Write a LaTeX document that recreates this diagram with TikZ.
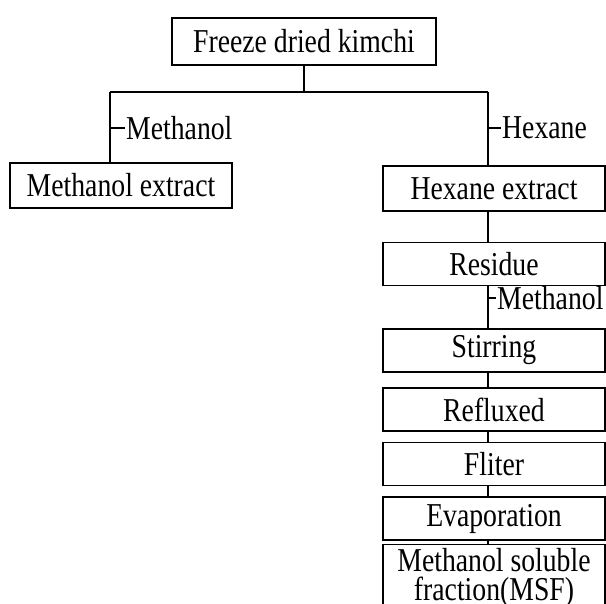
\documentclass[tikz,border=0pt]{standalone}
\usepackage{fontspec}
\setmainfont{Liberation Serif}[FakeStretch=0.83]
\usepackage{tikz}
\usetikzlibrary{positioning}

\begin{document}
\begin{tikzpicture}[
            box/.style={rectangle, draw, line width=0.8pt, minimum width=4.44cm, minimum height=0.86cm, inner sep=2pt, font=\fontsize{19}{15}\selectfont},
            link/.style={line width=0.8pt},
            solv/.style={font=\fontsize{19}{15}\selectfont, inner sep=0.5pt},
        ]
            \useasboundingbox[clip] (0,0) rectangle (12.12,12.06);

            \node[box, minimum width=5.28cm, minimum height=0.94cm] (kimchi) at (6.08, 11.23) {Freeze dried kimchi};
            \node[box, minimum height=0.9cm] (mext) at (2.42, 8.35) {Methanol extract};
            \node[box, minimum height=0.9cm] (hext) at (9.88, 8.29) {Hexane extract};
            \node[box] (res) at (9.88, 6.78) {Residue};
            \node[box] (stir) at (9.88, 5.05) {Stirring};
            \node[box] (reflux) at (9.88, 3.87) {Refluxed};
            \node[box] (filt) at (9.88, 2.78) {Fliter};
            \node[box] (evap) at (9.88, 1.69) {Evaporation};
            \node[box, minimum height=1.08cm, align=center] (msf) at (9.88, 0.5) {Methanol soluble\\[2pt]fraction(MSF)};

            % branch into the two solvents
            \coordinate (split) at (6.08, 10.22);
            \coordinate (left) at (2.2, 10.22);
            \coordinate (right) at (9.76, 10.22);
            \draw[link] (kimchi) -- (split);
            \draw[link] (left) -- (right);
            \draw[link] (left) -- (left |- mext.north);
            \draw[link] (right) -- (right |- hext.north);

            % solvent ticks
            \coordinate (t1) at (2.2, 9.5);
            \coordinate (t2) at (9.76, 9.5);
            \coordinate (t3) at (9.76, 6.1);
            \node[solv, right=0.3cm of t1, anchor=west] (meoh1) {Methanol};
            \node[solv, right=0.26cm of t2, anchor=west] (hex) {Hexane};
            \node[solv, right=0.16cm of t3, anchor=west] (meoh2) {Methanol};
            \draw[link] (t1) -- (meoh1.west);
            \draw[link] (t2) -- (hex.west);
            \draw[link] (t3) -- (meoh2.west);

            % hexane residue chain
            \draw[link] (right |- hext.south) -- (right |- res.north);
            \draw[link] (right |- res.south) -- (right |- stir.north);
            \draw[link] (right |- stir.south) -- (right |- reflux.north);
            \draw[link] (right |- reflux.south) -- (right |- filt.north);
            \draw[link] (right |- filt.south) -- (right |- evap.north);
            \draw[link] (right |- evap.south) -- (right |- msf.north);
        \end{tikzpicture}
\end{document}
